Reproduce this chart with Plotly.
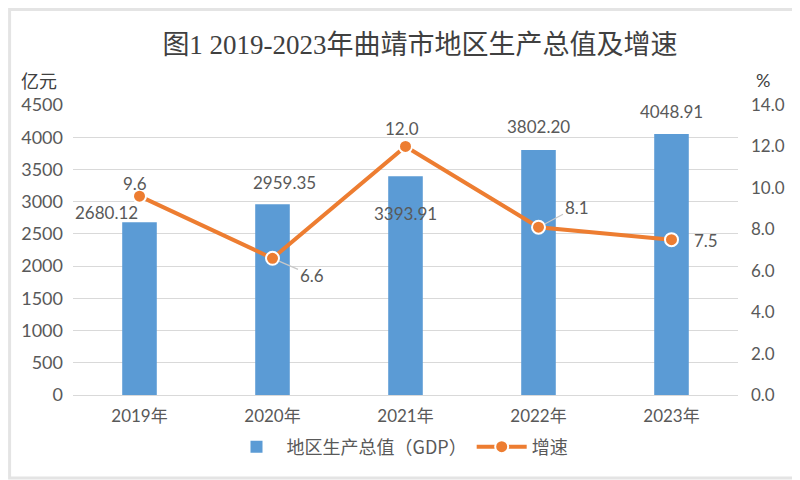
import plotly.graph_objects as go

# data
years = ["2019年", "2020年", "2021年", "2022年", "2023年"]
gdp = [2680.12, 2959.35, 3393.91, 3802.20, 4048.91]
growth = [9.6, 6.6, 12.0, 8.1, 7.5]
gdp_ticks = [0, 500, 1000, 1500, 2000, 2500, 3000, 3500, 4000, 4500]
growth_ticks = [0, 2, 4, 6, 8, 10, 12, 14]

# label offsets in pixels (placement only)
gdp_shift = [(-33, 10), (12, 22), (0, -37), (0, 23), (0, 23)]
growth_shift = [(-5, 13), None, (-4, 18), None, (34, -1)]
growth_leader = {1: (39, 17), 3: (38, -20)}

W, H = 800, 480
# the page puts the figure 8px in from the top-left corner
OFF = 8


def px(x):
    return (x - OFF) / W


def py(y):
    return 1 - (y - OFF) / H


label_font = dict(family="Lato, Noto Sans CJK SC", size=17, color="#595959")
grey = "#595959"

fig = go.Figure()

fig.add_trace(go.Bar(
    x=years, y=gdp, name="地区生产总值（GDP）",
    marker=dict(color="#5b9bd5", line=dict(width=0)),
    width=0.26, yaxis="y",
))

fig.add_trace(go.Scatter(
    x=years, y=growth, name="增速", yaxis="y2",
    mode="lines+markers",
    line=dict(color="#ed7d31", width=4),
    marker=dict(size=13, color="#ed7d31", line=dict(color="white", width=2)),
))

# data labels
for i, (yr, v) in enumerate(zip(years, gdp)):
    dx, dy = gdp_shift[i]
    fig.add_annotation(x=yr, y=v, xref="x", yref="y", text=f"{v:.2f}",
                       showarrow=False, xshift=dx, yshift=dy, font=label_font)

for i, (yr, v) in enumerate(zip(years, growth)):
    if i in growth_leader:
        ax, ay = growth_leader[i]
        fig.add_annotation(x=yr, y=v, xref="x", yref="y2", text=f"{v:.1f}",
                           showarrow=True, arrowhead=0, arrowwidth=1.2,
                           arrowcolor="#c8c8c8", ax=ax, ay=ay, standoff=7,
                           font=label_font)
    else:
        dx, dy = growth_shift[i]
        fig.add_annotation(x=yr, y=v, xref="x", yref="y2", text=f"{v:.1f}",
                           showarrow=False, xshift=dx, yshift=dy, font=label_font)

# axis unit labels
fig.add_annotation(x=px(39), y=py(80), xref="paper", yref="paper",
                   text="亿元", showarrow=False, xanchor="center", yanchor="middle",
                   font=dict(family="Noto Sans CJK SC", size=18, color="#404040"))
fig.add_annotation(x=px(763), y=py(80), xref="paper", yref="paper",
                   text="%", showarrow=False, xanchor="center", yanchor="middle",
                   font=dict(family="Lato", size=18, color="#404040"))

# light frame round the picture
fig.add_shape(type="rect", xref="paper", yref="paper",
              x0=0.002, y0=py(478), x1=px(798), y1=0.997,
              line=dict(color="#e4e4e4", width=3), layer="below")

fig.update_layout(
    width=W, height=H,
    margin=dict(l=0, r=0, t=0, b=0, autoexpand=False),
    paper_bgcolor="white", plot_bgcolor="white",
    title=dict(text="图1 2019-2023年曲靖市地区生产总值及增速",
               x=px(420), xanchor="center", y=py(45), yanchor="middle",
               font=dict(family="Liberation Serif, Noto Sans CJK SC", size=27,
                         color="#404040")),
    xaxis=dict(domain=[px(73), px(738)],
               tickfont=dict(family="Lato, Noto Sans CJK SC", size=17, color=grey),
               ticklabelstandoff=6,
               showgrid=False, showline=True, linecolor="#d9d9d9",
               ticks="", anchor="y"),
    yaxis=dict(domain=[py(395), py(105)],
               range=[0, 4500], tickvals=gdp_ticks,
               tickfont=dict(family="Lato", size=18, color=grey),
               ticklabelstandoff=9,
               showgrid=True, gridcolor="#d9d9d9", gridwidth=1,
               zeroline=False, showline=False, ticks=""),
    yaxis2=dict(overlaying="y", side="right", range=[0, 14],
                tickvals=growth_ticks, tickformat=".1f",
                tickfont=dict(family="Lato", size=17, color=grey),
                ticklabelstandoff=12,
                showgrid=False, zeroline=False, showline=False, ticks=""),
    legend=dict(orientation="h", x=px(400), xanchor="center", y=py(447),
                yanchor="middle", itemwidth=50,
                font=dict(family="Noto Sans CJK SC", size=18, color=grey),
                bgcolor="rgba(0,0,0,0)"),
    showlegend=True,
    hovermode=False,
)

fig.write_html("out.html")
